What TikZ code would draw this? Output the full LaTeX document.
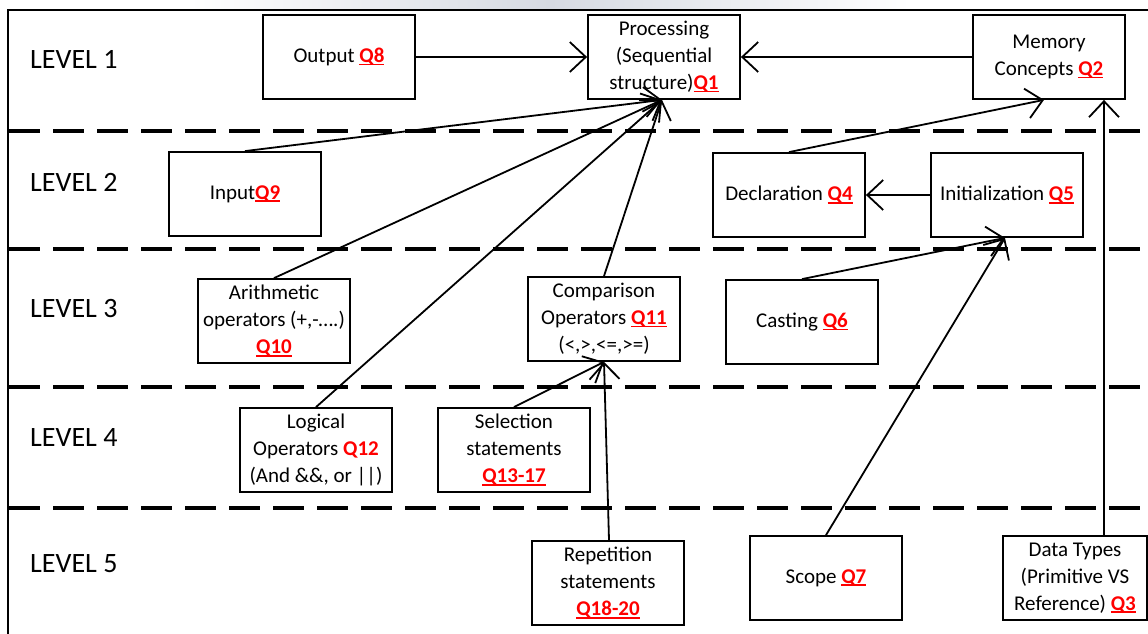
\documentclass[tikz,border=0pt]{standalone}
\usepackage{fontspec}
\setmainfont{Carlito}
\usetikzlibrary{arrows.meta}
\newcommand\qq[1]{{\color{red}\bfseries\setbox0\hbox{#1}\rlap{\rule[-2.6pt]{\wd0}{1.5pt}}\box0}}
\newcommand\qn[1]{{\color{red}\bfseries #1}}
\begin{document}
\begin{tikzpicture}[x=1pt,y=-1pt,
 box/.style={draw, line width=1.8pt, minimum width=152pt, minimum height=84pt, inner sep=0pt, align=center, font=\fontsize{21}{27}\selectfont},
 lvl/.style={anchor=west, font=\fontsize{28}{32}\selectfont, inner sep=0pt},
 sep/.style={line width=4pt, dash pattern=on 31pt off 13pt},
 frame/.style={line width=1.5pt},
 arr/.style={line width=1.8pt, -{Straight Barb[length=16pt,width=30pt]}},
 ]
\useasboundingbox (0,0) rectangle (1148,634);
\shade[left color=white, right color=white, middle color={rgb,255:red,214;green,218;blue,226}] (190,0) rectangle (910,8.5);
% frame
\draw[frame] (8,634) -- (8,10) -- (1148,10);
% level separators
\foreach \yy in {131,249,387,508} \draw[sep] (9,\yy) -- (1148,\yy);
% level labels
\node[lvl] (l1) at (30,59) {LEVEL 1};
\node[lvl] (l2) at (30,182) {LEVEL 2};
\node[lvl] (l3) at (30,309) {LEVEL 3};
\node[lvl] (l4) at (30,438) {LEVEL 4};
\node[lvl] (l5) at (30,564) {LEVEL 5};
% boxes
\node[box] (out) at (339,57) {Output \qq{Q8}};
\node[box] (proc) at (664,57) {Processing\\(Sequential\\structure)\qq{Q1}};
\node[box] (mem) at (1049,57) {Memory\\Concepts \qq{Q2}};
\node[box] (inp) at (245,194) {Input\qq{Q9}};
\node[box] (decl) at (789,195) {Declaration \qq{Q4}};
\node[box] (init) at (1007,195) {Initialization \qq{Q5}};
\node[box] (arith) at (274,321) {Arithmetic\\operators (+,-….)\\\qq{Q10}};
\node[box] (comp) at (604,319) {Comparison\\Operators \qq{Q11}\\(<,>,<=,>=)};
\node[box] (cast) at (802,322) {Casting \qq{Q6}};
\node[box] (logic) at (316,450) {Logical\\Operators \qn{Q12}\\(And \&\&, or ||)};
\node[box] (sel) at (514,450) {Selection\\statements\\\qq{Q13-17}};
\node[box] (rep) at (608,583) {Repetition\\statements\\\qq{Q18-20}};
\node[box] (scope) at (826,578) {Scope \qq{Q7}};
\node[box, minimum width=144pt] (dt) at (1075,578) {Data Types\\(Primitive VS\\Reference) \qq{Q3}};
% connectors
\draw[arr] (out.east) -- (proc.west);
\draw[arr] (mem.west) -- (proc.east);
\draw[arr] (inp.north) -- ([xshift=-2pt]proc.south);
\draw[arr] (arith.north) -- ([xshift=-2pt]proc.south);
\draw[arr] (logic.north) -- ([xshift=-2pt]proc.south);
\draw[arr] (comp.north) -- ([xshift=-2pt]proc.south);
\draw[arr] (decl.north) -- ([xshift=-5pt]mem.south);
\draw[arr] (init.west) -- (decl.east);
\draw[arr] (cast.north) -- ([xshift=-2pt]init.south);
\draw[arr] (scope.north) -- ([xshift=-2pt]init.south);
\coordinate (dttop) at ([xshift=29pt]dt.north);
\draw[arr] (dttop) -- (dttop |- mem.south);
\draw[arr] (sel.north) -- (comp.south);
\draw[arr] ([xshift=1pt]rep.north) -- (comp.south);
\end{tikzpicture}
\end{document}
